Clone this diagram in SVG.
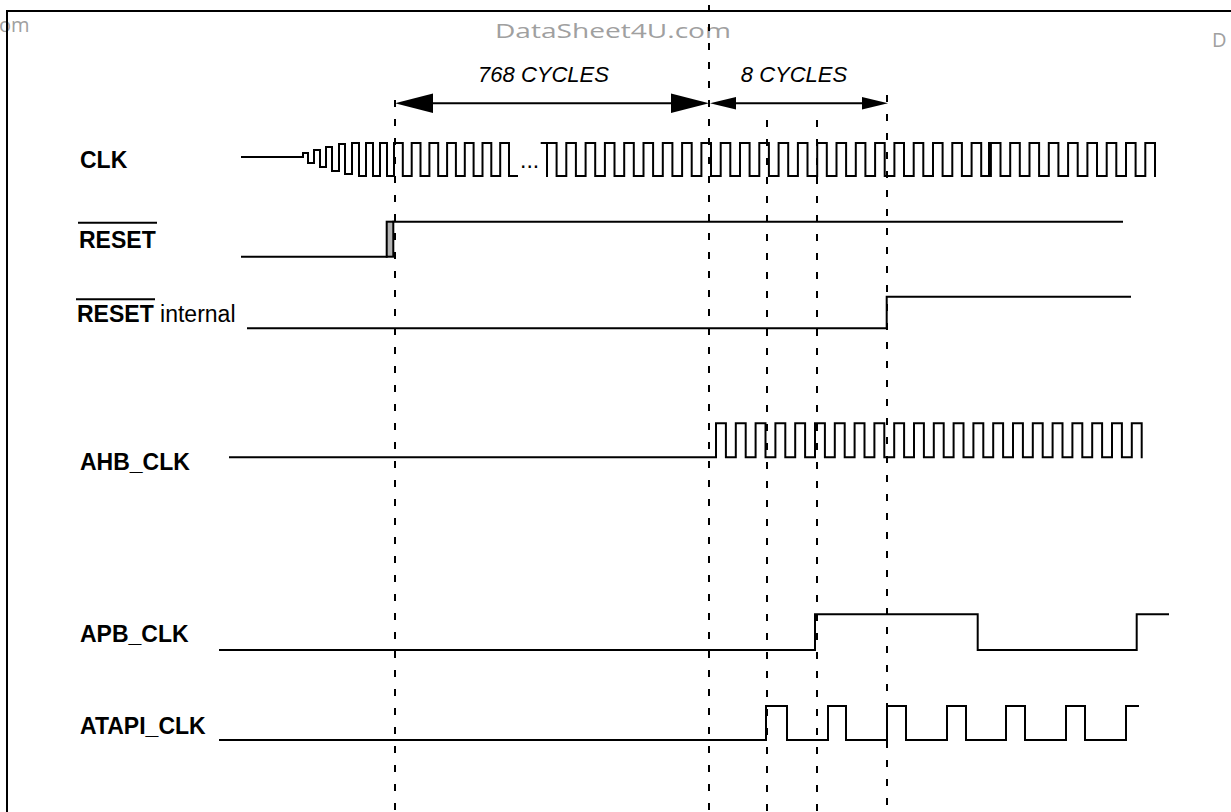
<svg xmlns="http://www.w3.org/2000/svg" width="1231" height="812" viewBox="0 0 1231 812">
<style>
.w{fill:none;stroke:#000;stroke-width:2;stroke-linejoin:miter;stroke-linecap:square}
.d{fill:none;stroke:#000;stroke-width:2;stroke-dasharray:7 12}
.lb{font-family:"Liberation Sans",Arial,sans-serif;font-size:23px;font-weight:bold;fill:#000}
.lr{font-family:"Liberation Sans",Arial,sans-serif;font-size:23px;fill:#000}
.cy{font-family:"Liberation Sans",Arial,sans-serif;font-size:22px;font-style:italic;fill:#000}
.wm{font-family:"Open Sans","Liberation Sans",sans-serif;font-size:20px;fill:#a0a0a0}
.ah{fill:#000;stroke:none}
</style>
<rect width="1231" height="812" fill="#fff"/>
<g id="watermark">
<text class="wm" x="-1" y="32">om</text>
<text class="wm" x="495" y="38" textLength="236" lengthAdjust="spacingAndGlyphs">DataSheet4U.com</text>
<text class="wm" x="1212" y="47">D</text>
</g>
<g id="frame"><path class="w" d="M7,812 V11 H1231"/></g>
<g id="connectors">
<path class="d" d="M395,100 V812"/>
<path class="d" d="M709,5 V812"/>
<path class="d" d="M767,120 V812"/>
<path class="d" d="M817,120 V812"/>
<path class="d" d="M887,95 V812"/>
<path class="w" d="M420,103.3 H690"/>
<polygon class="ah" points="395,103.3 433,93.5 433,113"/>
<polygon class="ah" points="709,103.3 671,93.5 671,113"/>
<path class="w" d="M725,103.3 H870"/>
<polygon class="ah" points="710,103.3 736,97 736,109.6"/>
<polygon class="ah" points="888,103.3 862,97 862,109.6"/>
<text class="cy" x="543.5" y="81.7" text-anchor="middle">768 CYCLES</text>
<text class="cy" x="794" y="81.7" text-anchor="middle">8 CYCLES</text>
</g>
<g id="clk">
<text class="lb" x="80" y="167.5">CLK</text>
<path class="w" d="M242,157 H303 V153 H308 V163 H314 V150 H320 V167 H326 V147 H332 V171 H339 V144 H345 V174 H352 V143 H359 V176 H366 V143 H373 V176 H380 V143 H387 V176 H394 V143 H402.8 V176 H411.7 V143 H420.5 V176 H429.4 V143 H438.2 V176 H447.1 V143 H455.9 V176 H464.8 V143 H473.6 V176 H482.5 V143 H491.3 V176 H500.2 V143 H509 V176 H517"/>
<text class="lr" x="520" y="168" font-size="14">...</text>
<path class="w" d="M541.7,143 H547"/>
<path class="w" d="M547,176 V143 H556.6 V176 H566.3 V143 H575.9 V176 H585.6 V143 H595.2 V176 H604.9 V143 H614.5 V176 H624.2 V143 H633.8 V176 H643.5 V143 H653.1 V176 H662.8 V143 H672.4 V176 H682.1 V143 H691.7 V176 H701.4 V143 H711 V176 H720.7 V143 H730.3 V176 H740 V143 H749.6 V176 H759.3 V143 H768.9 V176 H778.6 V143 H788.2 V176 H797.9 V143 H807.5 V176 H817.2 V143 H826.8 V176 H836.5 V143 H846.1 V176 H855.8 V143 H865.4 V176 H875.1 V143 H884.7 V176 H894.4 V143 H904 V176 H913.7 V143 H923.3 V176 H933 V143 H942.6 V176 H952.3 V143 H961.9 V176 H971.6 V143 H981.2 V176 H990.9 V143 H1000.5 V176 H1010.2 V143 H1019.8 V176 H1029.5 V143 H1039.1 V176 H1048.8 V143 H1058.4 V176 H1068.1 V143 H1077.7 V176 H1087.4 V143 H1097 V176 H1106.7 V143 H1116.3 V176 H1126 V143 H1135.6 V176 H1145.3 V143 H1155 V176"/>
<path class="w" d="M989,143 V176"/>
</g>
<g id="reset">
<text class="lb" x="79" y="247.5">RESET</text>
<path class="w" d="M79,222.7 H156" stroke-width="2.7"/>
<rect x="386.7" y="221.7" width="6.6" height="35" fill="#b3b3b3" stroke="#000" stroke-width="2"/>
<path class="w" d="M242,256.7 H386.7 M393.3,221.7 H1122"/>
</g>
<g id="reset_internal">
<text x="77" y="321.7"><tspan class="lb">RESET</tspan><tspan class="lr"> internal</tspan></text>
<path class="w" d="M77,299.3 H154" stroke-width="2.7"/>
<path class="w" d="M248,328.3 H886.7 V296.7 H1130"/>
</g>
<g id="ahb_clk">
<text class="lb" x="80" y="470">AHB_CLK</text>
<path class="w" d="M230,457.3 H716 V423.3 H725.9 V457.3 H735.8 V423.3 H745.7 V457.3 H755.6 V423.3 H765.5 V457.3 H775.4 V423.3 H785.3 V457.3 H795.2 V423.3 H805.1 V457.3 H815 V423.3 H824.9 V457.3 H834.8 V423.3 H844.7 V457.3 H854.6 V423.3 H864.5 V457.3 H874.4 V423.3 H884.3 V457.3 H894.2 V423.3 H904.1 V457.3 H914 V423.3 H923.9 V457.3 H933.8 V423.3 H943.7 V457.3 H953.6 V423.3 H963.5 V457.3 H973.4 V423.3 H983.3 V457.3 H993.2 V423.3 H1003.1 V457.3 H1013 V423.3 H1022.9 V457.3 H1032.8 V423.3 H1042.7 V457.3 H1052.6 V423.3 H1062.5 V457.3 H1072.4 V423.3 H1082.3 V457.3 H1092.2 V423.3 H1102.1 V457.3 H1112 V423.3 H1121.9 V457.3 H1131.8 V423.3 H1141.7 V457.3"/>
</g>
<g id="apb_clk">
<text class="lb" x="80" y="642">APB_CLK</text>
<path class="w" d="M220,650 H815 V614.3 H977.7 V650 H1136.7 V614.3 H1168"/>
</g>
<g id="atapi_clk">
<text class="lb" x="80" y="734">ATAPI_CLK</text>
<path class="w" d="M220,740 H766 V706 H787 V740 H828 V706 H846 V740 H887 V706 H906 V740 H947 V706 H966 V740 H1006 V706 H1025 V740 H1066 V706 H1085 V740 H1126 V706 H1138"/>
</g>
</svg>
